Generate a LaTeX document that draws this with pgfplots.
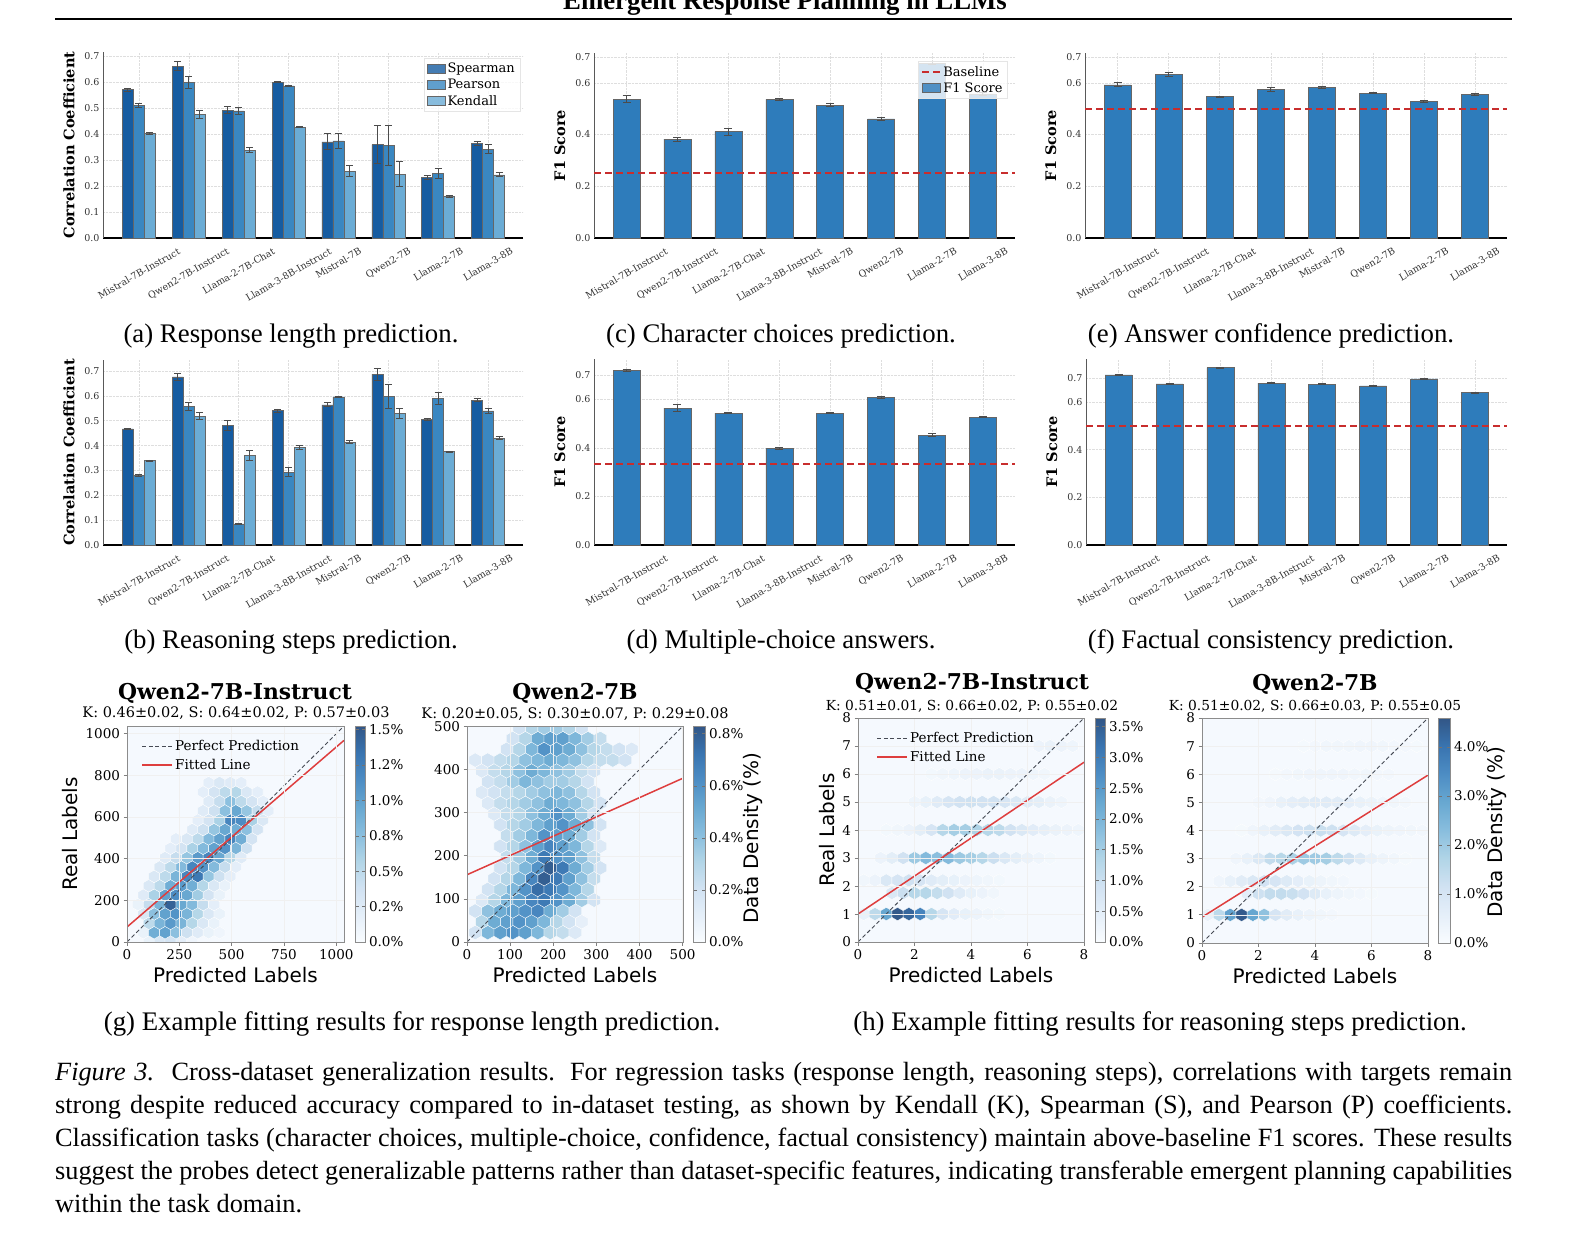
\documentclass[border=0pt]{standalone}
\usepackage{fontspec}
\usepackage{graphicx}
\usepackage{pgfplots}
\usepackage{pgfplotstable}
\pgfplotsset{compat=1.18}
\setmainfont{Liberation Serif}
\newfontfamily\dvs{DejaVu Serif}
\newfontfamily\dvsans{DejaVu Sans}
\newcommand\fs[1]{\fontsize{#1}{#1}\selectfont}
\newcommand\rl[1]{\rotatebox{30}{#1}}

\definecolor{cS}{RGB}{22,92,161}
\definecolor{cP}{RGB}{58,135,193}
\definecolor{cK}{RGB}{107,172,213}
\definecolor{cF}{RGB}{46,124,187}
\definecolor{bred}{RGB}{200,45,45}
\definecolor{fitred}{RGB}{222,62,62}
\definecolor{pgray}{RGB}{70,75,85}
\definecolor{hexbg}{RGB}{245,249,254}

% pointy-top hexagon mark for the hexbin panels
\pgfdeclareplotmark{hexa}{%
  \pgfpathmoveto{\pgfpointpolar{90}{\pgfplotmarksize}}%
  \pgfpathlineto{\pgfpointpolar{150}{\pgfplotmarksize}}%
  \pgfpathlineto{\pgfpointpolar{210}{\pgfplotmarksize}}%
  \pgfpathlineto{\pgfpointpolar{270}{\pgfplotmarksize}}%
  \pgfpathlineto{\pgfpointpolar{330}{\pgfplotmarksize}}%
  \pgfpathlineto{\pgfpointpolar{30}{\pgfplotmarksize}}%
  \pgfpathclose
  \pgfusepathqfillstroke}

\pgfplotsset{
  /pgf/number format/assume math mode=true,
  /pgf/number format/1000 sep={},
  colormap={blues}{rgb255=(249,252,255) rgb255=(229,239,249) rgb255=(209,226,242)
    rgb255=(177,213,231) rgb255=(137,190,222) rgb255=(104,168,209)
    rgb255=(77,141,196) rgb255=(57,116,176) rgb255=(50,86,134)},
  barax/.style={
    scale only axis,
    axis x line*=bottom, axis y line*=left,
    axis line style={-},
    x axis line style={black, line width=1.2pt},
    y axis line style={black!65, line width=0.8pt},
    xtick={0,...,7},
    xticklabels={\rl{Mistral-7B-Instruct},\rl{Qwen2-7B-Instruct},\rl{Llama-2-7B-Chat},
      \rl{Llama-3-8B-Instruct},\rl{Mistral-7B},\rl{Qwen2-7B},\rl{Llama-2-7B},\rl{Llama-3-8B}},
    xticklabel style={anchor=north, inner sep=0pt, yshift=-9pt, font=\dvs\fs{9.5}, text=black!80},
    yticklabel style={font=\dvs\fs{9.5}, text=black!80,
      /pgf/number format/fixed, /pgf/number format/fixed zerofill,
      /pgf/number format/precision=1},
    major tick length=0pt,
    xmajorgrids, ymajorgrids,
    grid style={densely dotted, black!13, line width=0.5pt},
    ymin=0, ybar,
    ylabel style={at={(axis description cs:-0.081,0.5)}, anchor=center,
      font=\dvs\bfseries\fs{14.5}},
    legend style={font=\dvs\fs{13}, fill=white, fill opacity=0.8, text opacity=1,
      draw=black!10, inner sep=3pt, row sep=1pt},
    legend cell align=left,
  },
  sb/.style={fill=#1, draw=black!60, line width=0.5pt,
    legend image code/.code={\draw[##1] (0pt,-4.5pt) rectangle (18pt,4.5pt);}},
  errs/.style={error bars/y dir=both, error bars/y explicit,
    error bars/error bar style={line width=0.9pt, black!70},
    error bars/error mark options={rotate=90, mark size=#1, line width=0.9pt, black!70}},
  basel/.style={color=bred, dash pattern=on 7pt off 4pt, line width=1.8pt},
  basleg/.style={basel, legend image code/.code={\draw[##1] (0pt,0pt) -- (18pt,0pt);}},
  hexax/.style={
    scale only axis, enlargelimits=false, clip marker paths=true,
    axis line style={black!45, line width=0.9pt},
    major tick length=3.5pt, tick align=outside, xtick pos=left, ytick pos=left,
    tick style={black!50, line width=0.8pt},
    tick label style={font=\dvs\fs{13.5}, text=black},
    axis background/.style={fill=hexbg},
    xmajorgrids, ymajorgrids, grid style={black!6, line width=0.5pt},
    axis on top,
    xlabel style={font=\dvsans\fs{20}, at={(axis description cs:0.5,0)}, anchor=center, yshift=-33pt},
    ylabel style={font=\dvsans\fs{20}, anchor=center},
    colormap name=blues, colorbar,
    colorbar style={at={(parent axis.north east)}, anchor=north west, scale only axis,
      axis line style={black!45, line width=0.8pt}, tick style={black!55, line width=0.7pt},
      major tick length=3.5pt, yticklabel style={font=\dvs\fs{13.5}}},
    legend style={draw=none, fill=none, font=\dvs\fs{13.5}, row sep=3pt, inner sep=1pt},
    legend cell align=left,
    legend image code/.code={\draw[##1] (0pt,0pt) -- (30pt,0pt);},
  },
  hexs/.style={scatter, only marks, mark=hexa, mark size=#1, scatter src=explicit,
    scatter/use mapped color={draw=white, fill=mapped color}, line width=0.35pt, forget plot},
  perf/.style={color=pgray, dash pattern=on 4pt off 2.5pt, line width=0.9pt},
  fitl/.style={color=fitred, line width=1.5pt},
}

\begin{document}%
% response length prediction (a)
\pgfplotstableread{
i S Se P Pe K Ke
0 0.570 0.005 0.511 0.008 0.402 0.005
1 0.661 0.017 0.597 0.024 0.476 0.016
2 0.492 0.014 0.489 0.014 0.337 0.010
3 0.599 0.002 0.585 0.002 0.426 0.002
4 0.370 0.030 0.373 0.030 0.257 0.020
5 0.359 0.072 0.357 0.077 0.246 0.049
6 0.234 0.008 0.248 0.020 0.160 0.005
7 0.365 0.008 0.342 0.018 0.243 0.008
}\tabA%
% reasoning steps prediction (b)
\pgfplotstableread{
i S Se P Pe K Ke
0 0.467 0.002 0.280 0.003 0.340 0.002
1 0.676 0.015 0.557 0.016 0.518 0.014
2 0.482 0.020 0.085 0.002 0.359 0.020
3 0.541 0.006 0.293 0.018 0.394 0.008
4 0.564 0.008 0.596 0.002 0.414 0.006
5 0.687 0.025 0.597 0.048 0.529 0.022
6 0.505 0.003 0.589 0.024 0.376 0.002
7 0.582 0.006 0.539 0.010 0.430 0.007
}\tabB%
% F1 scores: C character choices, D multiple choice, E confidence, F factual
\pgfplotstableread{
i C Ce D De E Ee F Fe
0 0.536 0.014 0.719 0.006 0.592 0.008 0.714 0.003
1 0.382 0.008 0.564 0.013 0.633 0.008 0.676 0.002
2 0.411 0.013 0.543 0.002 0.547 0.002 0.744 0.002
3 0.536 0.004 0.399 0.004 0.574 0.006 0.679 0.003
4 0.513 0.006 0.543 0.002 0.582 0.003 0.674 0.002
5 0.460 0.007 0.607 0.005 0.560 0.002 0.667 0.004
6 0.675 0.006 0.453 0.006 0.528 0.005 0.697 0.002
7 0.557 0.005 0.527 0.002 0.555 0.003 0.639 0.002
}\tabF%
% hexbin cells, density in percent
\pgfplotstableread[row sep=\\]{
x y c\\
104 0 0.15\\ 156 0 0.3\\ 208 0 0.35\\ 260 0 0.2\\ 312 0 0.1\\
78 45 0.15\\ 130 45 0.9\\ 182 45 1.0\\ 234 45 0.75\\ 286 45 0.4\\ 338 45 0.25\\ 390 45 0.15\\ 442 45 0.1\\
104 90 0.5\\ 156 90 0.85\\ 208 90 1.05\\ 260 90 0.85\\ 312 90 0.55\\ 364 90 0.3\\ 416 90 0.15\\
78 135 0.3\\ 130 135 0.75\\ 182 135 1.0\\ 234 135 1.1\\ 286 135 0.85\\ 338 135 0.55\\ 390 135 0.3\\ 442 135 0.15\\
52 180 0.15\\ 104 180 0.45\\ 156 180 0.85\\ 208 180 1.45\\ 260 180 0.95\\ 312 180 0.8\\ 364 180 0.45\\ 416 180 0.2\\
78 225 0.25\\ 130 225 0.6\\ 182 225 1.0\\ 234 225 1.15\\ 286 225 0.95\\ 338 225 0.65\\ 390 225 0.35\\ 442 225 0.15\\
104 270 0.3\\ 156 270 0.5\\ 208 270 0.9\\ 260 270 1.05\\ 312 270 0.9\\ 364 270 0.55\\ 416 270 0.3\\ 468 270 0.15\\
130 315 0.3\\ 182 315 0.5\\ 234 315 0.85\\ 286 315 1.2\\ 338 315 1.3\\ 390 315 0.7\\ 442 315 0.4\\ 494 315 0.2\\
156 360 0.3\\ 208 360 0.5\\ 260 360 0.8\\ 312 360 1.2\\ 364 360 1.1\\ 416 360 0.8\\ 468 360 0.45\\ 520 360 0.2\\
182 405 0.25\\ 234 405 0.45\\ 286 405 0.7\\ 338 405 1.05\\ 390 405 1.2\\ 442 405 0.95\\ 494 405 0.55\\ 546 405 0.25\\
208 450 0.2\\ 260 450 0.35\\ 312 450 0.6\\ 364 450 0.8\\ 416 450 1.0\\ 468 450 1.1\\ 520 450 0.85\\ 572 450 0.4\\
234 495 0.2\\ 286 495 0.3\\ 338 495 0.5\\ 390 495 0.8\\ 442 495 1.0\\ 494 495 1.2\\ 546 495 0.9\\ 598 495 0.35\\
312 540 0.25\\ 364 540 0.4\\ 416 540 0.7\\ 468 540 0.95\\ 520 540 0.9\\ 572 540 0.75\\ 624 540 0.35\\
338 585 0.2\\ 390 585 0.35\\ 442 585 0.6\\ 494 585 1.2\\ 546 585 1.15\\ 598 585 0.6\\ 650 585 0.3\\
364 630 0.25\\ 416 630 0.4\\ 468 630 0.75\\ 520 630 0.95\\ 572 630 0.7\\ 624 630 0.45\\ 676 630 0.2\\
390 675 0.25\\ 442 675 0.45\\ 494 675 0.75\\ 546 675 0.5\\ 598 675 0.35\\ 650 675 0.2\\
364 720 0.2\\ 416 720 0.35\\ 468 720 0.5\\ 520 720 0.55\\ 572 720 0.3\\ 624 720 0.2\\
390 765 0.2\\ 442 765 0.3\\ 494 765 0.25\\ 546 765 0.2\\
}\hexGa%
\pgfplotstableread[row sep=\\]{
x y c\\
19 22 0.2\\ 48 22 0.45\\ 77 22 0.55\\ 106 22 0.6\\ 135 22 0.55\\ 164 22 0.45\\ 193 22 0.3\\ 222 22 0.25\\ 251 22 0.15\\
34 47 0.3\\ 63 47 0.5\\ 92 47 0.55\\ 121 47 0.6\\ 150 47 0.55\\ 179 47 0.45\\ 208 47 0.3\\ 237 47 0.2\\ 266 47 0.1\\
19 72 0.2\\ 48 72 0.4\\ 77 72 0.5\\ 106 72 0.55\\ 135 72 0.6\\ 164 72 0.65\\ 193 72 0.5\\ 222 72 0.35\\ 251 72 0.2\\
34 97 0.15\\ 63 97 0.3\\ 92 97 0.45\\ 121 97 0.55\\ 150 97 0.65\\ 179 97 0.7\\ 208 97 0.6\\ 237 97 0.5\\ 266 97 0.35\\ 295 97 0.2\\
48 122 0.2\\ 77 122 0.3\\ 106 122 0.45\\ 135 122 0.6\\ 164 122 0.75\\ 193 122 0.7\\ 222 122 0.6\\ 251 122 0.45\\ 280 122 0.3\\
63 147 0.2\\ 92 147 0.3\\ 121 147 0.45\\ 150 147 0.65\\ 179 147 0.8\\ 208 147 0.7\\ 237 147 0.55\\ 266 147 0.4\\ 295 147 0.25\\
77 172 0.2\\ 106 172 0.3\\ 135 172 0.45\\ 164 172 0.6\\ 193 172 0.8\\ 222 172 0.7\\ 251 172 0.5\\ 280 172 0.35\\ 309 172 0.2\\
92 197 0.25\\ 121 197 0.35\\ 150 197 0.5\\ 179 197 0.7\\ 208 197 0.6\\ 237 197 0.55\\ 266 197 0.4\\ 295 197 0.25\\
77 222 0.2\\ 106 222 0.3\\ 135 222 0.4\\ 164 222 0.55\\ 193 222 0.65\\ 222 222 0.55\\ 251 222 0.45\\ 280 222 0.3\\ 309 222 0.15\\
92 247 0.25\\ 121 247 0.35\\ 150 247 0.45\\ 179 247 0.6\\ 208 247 0.55\\ 237 247 0.5\\ 266 247 0.35\\ 295 247 0.2\\
77 272 0.2\\ 106 272 0.3\\ 135 272 0.35\\ 164 272 0.45\\ 193 272 0.55\\ 222 272 0.6\\ 251 272 0.5\\ 280 272 0.4\\ 309 272 0.2\\
63 297 0.15\\ 92 297 0.25\\ 121 297 0.3\\ 150 297 0.4\\ 179 297 0.5\\ 208 297 0.6\\ 237 297 0.5\\ 266 297 0.35\\ 295 297 0.2\\
48 322 0.15\\ 77 322 0.25\\ 106 322 0.3\\ 135 322 0.35\\ 164 322 0.4\\ 193 322 0.5\\ 222 322 0.45\\ 251 322 0.4\\ 280 322 0.3\\ 309 322 0.2\\
34 347 0.15\\ 63 347 0.2\\ 92 347 0.25\\ 121 347 0.3\\ 150 347 0.35\\ 179 347 0.4\\ 208 347 0.45\\ 237 347 0.4\\ 266 347 0.3\\ 295 347 0.2\\
48 372 0.2\\ 77 372 0.25\\ 106 372 0.35\\ 135 372 0.45\\ 164 372 0.4\\ 193 372 0.35\\ 222 372 0.35\\ 251 372 0.3\\ 280 372 0.2\\
34 397 0.15\\ 63 397 0.25\\ 92 397 0.3\\ 121 397 0.4\\ 150 397 0.5\\ 179 397 0.45\\ 208 397 0.4\\ 237 397 0.35\\ 266 397 0.25\\ 295 397 0.2\\
19 422 0.15\\ 48 422 0.2\\ 77 422 0.25\\ 106 422 0.3\\ 135 422 0.4\\ 164 422 0.45\\ 193 422 0.5\\ 222 422 0.45\\ 251 422 0.4\\ 280 422 0.3\\ 309 422 0.25\\ 338 422 0.25\\ 367 422 0.2\\
92 447 0.2\\ 121 447 0.3\\ 150 447 0.45\\ 179 447 0.6\\ 208 447 0.55\\ 237 447 0.5\\ 266 447 0.4\\ 295 447 0.3\\ 324 447 0.25\\ 353 447 0.2\\ 382 447 0.15\\
106 472 0.2\\ 135 472 0.3\\ 164 472 0.5\\ 193 472 0.55\\ 222 472 0.55\\ 251 472 0.45\\ 280 472 0.35\\ 309 472 0.25\\
121 497 0.2\\ 150 497 0.3\\ 179 497 0.35\\ 208 497 0.35\\ 237 497 0.3\\ 266 497 0.2\\
}\hexGb%
\pgfplotstableread[row sep=\\]{
x y c\\
0.2 1 0.4\\ 0.6 1 1.2\\ 1.0 1 2.3\\ 1.4 1 3.6\\ 1.8 1 3.4\\ 2.2 1 2.9\\ 2.6 1 1.3\\ 3.0 1 0.8\\ 3.4 1 0.55\\ 3.8 1 0.4\\ 4.2 1 0.3\\ 4.6 1 0.2\\ 5.0 1 0.15\\
1.2 1.75 0.7\\ 1.6 1.75 1.0\\ 2.0 1.75 1.3\\ 2.4 1.75 1.3\\ 2.8 1.75 1.1\\ 3.2 1.75 0.9\\ 3.6 1.75 0.6\\ 4.0 1.75 0.4\\ 4.4 1.75 0.3\\ 4.8 1.75 0.2\\
0.2 2.2 0.2\\ 0.6 2.2 0.3\\ 1.0 2.2 0.7\\ 1.4 2.2 0.8\\ 1.8 2.2 0.9\\ 2.2 2.2 0.8\\ 2.6 2.2 0.6\\ 3.0 2.2 0.5\\ 3.4 2.2 0.4\\ 3.8 2.2 0.3\\ 4.2 2.2 0.25\\ 4.6 2.2 0.2\\ 5.0 2.2 0.15\\
0.8 3 0.3\\ 1.2 3 0.5\\ 1.6 3 0.9\\ 2.0 3 1.6\\ 2.4 3 1.9\\ 2.8 3 1.8\\ 3.2 3 1.9\\ 3.6 3 1.6\\ 4.0 3 1.5\\ 4.4 3 1.3\\ 4.8 3 1.0\\ 5.2 3 0.7\\ 5.6 3 0.5\\ 6.0 3 0.35\\ 6.4 3 0.25\\ 6.8 3 0.15\\
1.0 4 0.15\\ 1.4 4 0.2\\ 1.8 4 0.3\\ 2.2 4 0.5\\ 2.6 4 0.8\\ 3.0 4 1.3\\ 3.4 4 1.5\\ 3.8 4 1.5\\ 4.2 4 1.4\\ 4.6 4 1.3\\ 5.0 4 1.2\\ 5.4 4 0.9\\ 5.8 4 0.7\\ 6.2 4 0.55\\ 6.6 4 0.45\\ 7.0 4 0.35\\ 7.4 4 0.3\\ 7.8 4 0.25\\
2.0 5 0.25\\ 2.4 5 0.4\\ 2.8 5 0.6\\ 3.2 5 0.8\\ 3.6 5 0.9\\ 4.0 5 0.95\\ 4.4 5 0.9\\ 4.8 5 0.9\\ 5.2 5 0.8\\ 5.6 5 0.7\\ 6.0 5 0.6\\ 6.4 5 0.5\\ 6.8 5 0.35\\ 7.2 5 0.25\\
2.6 6 0.15\\ 3.0 6 0.2\\ 3.4 6 0.25\\ 3.8 6 0.3\\ 4.2 6 0.3\\ 4.6 6 0.35\\ 5.0 6 0.35\\ 5.4 6 0.3\\ 5.8 6 0.3\\ 6.2 6 0.25\\ 6.6 6 0.2\\
6.4 7 0.3\\ 6.8 7 0.35\\ 7.2 7 0.3\\ 7.6 7 0.25\\
}\hexHa%
\pgfplotstableread[row sep=\\]{
x y c\\
0.2 1 0.5\\ 0.6 1 1.5\\ 1.0 1 3.0\\ 1.4 1 4.5\\ 1.8 1 2.9\\ 2.2 1 2.2\\ 2.6 1 1.0\\ 3.0 1 0.7\\ 3.4 1 0.5\\ 3.8 1 0.35\\ 4.2 1 0.25\\ 4.6 1 0.2\\
1.6 1.75 0.6\\ 2.0 1.75 1.2\\ 2.4 1.75 1.4\\ 2.8 1.75 1.4\\ 3.2 1.75 1.3\\ 3.6 1.75 1.1\\ 4.0 1.75 0.8\\ 4.4 1.75 0.5\\ 4.8 1.75 0.35\\ 5.2 1.75 0.25\\ 5.6 1.75 0.2\\ 6.0 1.75 0.15\\
0.6 2.2 0.3\\ 1.0 2.2 0.5\\ 1.4 2.2 0.7\\ 1.8 2.2 0.9\\ 2.2 2.2 1.1\\ 2.6 2.2 1.0\\ 3.0 2.2 0.8\\ 3.4 2.2 0.6\\ 3.8 2.2 0.45\\ 4.2 2.2 0.35\\ 4.6 2.2 0.25\\ 5.0 2.2 0.2\\
1.2 3 0.3\\ 1.6 3 0.5\\ 2.0 3 0.9\\ 2.4 3 1.4\\ 2.8 3 1.6\\ 3.2 3 1.8\\ 3.6 3 2.0\\ 4.0 3 2.0\\ 4.4 3 1.9\\ 4.8 3 1.5\\ 5.2 3 1.2\\ 5.6 3 0.8\\ 6.0 3 0.5\\ 6.4 3 0.35\\ 6.8 3 0.25\\ 7.2 3 0.15\\
1.4 4 0.15\\ 1.8 4 0.3\\ 2.2 4 0.5\\ 2.6 4 0.7\\ 3.0 4 0.9\\ 3.4 4 1.1\\ 3.8 4 1.2\\ 4.2 4 1.3\\ 4.6 4 1.2\\ 5.0 4 1.0\\ 5.4 4 0.8\\ 5.8 4 0.6\\ 6.2 4 0.45\\ 6.6 4 0.35\\ 7.0 4 0.3\\ 7.4 4 0.25\\ 7.8 4 0.2\\
2.0 5 0.2\\ 2.4 5 0.3\\ 2.8 5 0.5\\ 3.2 5 0.6\\ 3.6 5 0.7\\ 4.0 5 0.75\\ 4.4 5 0.75\\ 4.8 5 0.7\\ 5.2 5 0.6\\ 5.6 5 0.5\\ 6.0 5 0.4\\ 6.4 5 0.3\\ 6.8 5 0.25\\ 7.2 5 0.2\\
2.6 6 0.15\\ 3.0 6 0.2\\ 3.4 6 0.25\\ 3.8 6 0.3\\ 4.2 6 0.3\\ 4.6 6 0.3\\ 5.0 6 0.3\\ 5.4 6 0.25\\ 5.8 6 0.25\\ 6.2 6 0.2\\ 6.6 6 0.2\\
3.6 7 0.15\\ 4.0 7 0.2\\ 4.4 7 0.25\\ 4.8 7 0.25\\ 5.2 7 0.25\\ 5.6 7 0.3\\ 6.0 7 0.3\\ 6.4 7 0.25\\ 6.8 7 0.2\\ 7.2 7 0.2\\ 7.6 7 0.15\\
}\hexHb%
\begin{tikzpicture}
\useasboundingbox (0pt,0pt) rectangle (1570pt,-1251pt);

% running head
\node[anchor=base, font=\bfseries\fs{26.8}, inner sep=0pt] at (785pt,-9pt) {Emergent Response Planning in LLMs};
\draw[line width=2.5pt] (55pt,-19pt) -- (1512pt,-19pt);

% (a) response length
\begin{axis}[barax, at={(103pt,-238pt)}, anchor=south west, width=420pt, height=186pt,
  xmin=-0.72, xmax=7.7, ymax=0.715, ytick={0,0.1,0.2,0.3,0.4,0.5,0.6,0.7},
  bar width=11pt, ylabel={Correlation Coefficient},
  legend style={at={(axis description cs:0.993,0.968)}, anchor=north east}]
\addplot[sb=cS, bar shift=-11pt, errs=3.5pt] table[x=i, y=S, y error=Se] {\tabA};
\addlegendentry{Spearman}
\addplot[sb=cP, bar shift=0pt, errs=3.5pt] table[x=i, y=P, y error=Pe] {\tabA};
\addlegendentry{Pearson}
\addplot[sb=cK, bar shift=11pt, errs=3.5pt] table[x=i, y=K, y error=Ke] {\tabA};
\addlegendentry{Kendall}
\end{axis}

% (b) reasoning steps
\begin{axis}[barax, at={(103pt,-545pt)}, anchor=south west, width=420pt, height=185pt,
  xmin=-0.72, xmax=7.7, ymax=0.744, ytick={0,0.1,0.2,0.3,0.4,0.5,0.6,0.7},
  bar width=11pt, ylabel={Correlation Coefficient}]
\addplot[sb=cS, bar shift=-11pt, errs=3.5pt] table[x=i, y=S, y error=Se] {\tabB};
\addplot[sb=cP, bar shift=0pt, errs=3.5pt] table[x=i, y=P, y error=Pe] {\tabB};
\addplot[sb=cK, bar shift=11pt, errs=3.5pt] table[x=i, y=K, y error=Ke] {\tabB};
\end{axis}

% (c) character choices
\begin{axis}[barax, at={(594pt,-238pt)}, anchor=south west, width=421pt, height=185pt,
  xmin=-0.64, xmax=7.63, ymax=0.715, ytick={0,0.2,0.4,0.6,0.7},
  bar width=27pt, ylabel={F1 Score},
  legend style={at={(axis description cs:0.983,0.957)}, anchor=north east}]
\addlegendimage{basleg}
\addlegendentry{Baseline}
\addplot[sb=cF, bar shift=0pt, errs=4pt] table[x=i, y=C, y error=Ce] {\tabF};
\addlegendentry{F1 Score}
\addplot[sharp plot, basel, forget plot] coordinates {(-0.64,0.25) (7.63,0.25)};
\end{axis}

% (d) multiple-choice answers
\begin{axis}[barax, at={(594pt,-545pt)}, anchor=south west, width=421pt, height=186pt,
  xmin=-0.64, xmax=7.63, ymax=0.766, ytick={0,0.2,0.4,0.6,0.7},
  bar width=27pt, ylabel={F1 Score}]
\addplot[sb=cF, bar shift=0pt, errs=4pt] table[x=i, y=D, y error=De] {\tabF};
\addplot[sharp plot, basel, forget plot] coordinates {(-0.64,0.333) (7.63,0.333)};
\end{axis}

% (e) answer confidence
\begin{axis}[barax, at={(1085pt,-238pt)}, anchor=south west, width=422pt, height=185pt,
  xmin=-0.64, xmax=7.63, ymax=0.715, ytick={0,0.2,0.4,0.6,0.7},
  bar width=27pt, ylabel={F1 Score}]
\addplot[sb=cF, bar shift=0pt, errs=4pt] table[x=i, y=E, y error=Ee] {\tabF};
\addplot[sharp plot, basel, forget plot] coordinates {(-0.64,0.5) (7.63,0.5)};
\end{axis}

% (f) factual consistency
\begin{axis}[barax, at={(1086pt,-545pt)}, anchor=south west, width=421pt, height=186pt,
  xmin=-0.64, xmax=7.63, ymax=0.78, ytick={0,0.2,0.4,0.6,0.7},
  bar width=27pt, ylabel={F1 Score}]
\addplot[sb=cF, bar shift=0pt, errs=4pt] table[x=i, y=F, y error=Fe] {\tabF};
\addplot[sharp plot, basel, forget plot] coordinates {(-0.64,0.5) (7.63,0.5)};
\end{axis}

% (g) response length hexbins
\begin{axis}[hexax, at={(127pt,-942pt)}, anchor=south west, width=217pt, height=216pt,
  xmin=0, xmax=1037, ymin=0, ymax=1037,
  xtick={0,250,500,750,1000}, ytick={0,200,400,600,800,1000},
  xlabel={Predicted Labels}, ylabel={Real Labels},
  ylabel style={at={(axis description cs:-0.263,0.5)}},
  point meta min=0, point meta max=1.526,
  colorbar style={xshift=3pt, width=10pt, height=216pt,
    ytick={0,0.25,0.5,0.75,1,1.25,1.5},
    yticklabels={0.0\%,0.2\%,0.5\%,0.8\%,1.0\%,1.2\%,1.5\%}},
  legend style={at={(axis description cs:0.062,0.948)}, anchor=north west}]
\addplot[hexs=6.3pt] table[x=x, y=y, meta=c] {\hexGa};
\addplot[perf] coordinates {(0,0) (1037,1037)};
\addlegendentry{Perfect Prediction}
\addplot[fitl] coordinates {(0,72) (1037,968)};
\addlegendentry{Fitted Line}
\end{axis}

\begin{axis}[hexax, at={(467pt,-942pt)}, anchor=south west, width=216pt, height=216pt,
  xmin=0, xmax=501, ymin=0, ymax=501,
  xtick={0,100,200,300,400,500}, ytick={0,100,200,300,400,500},
  xlabel={Predicted Labels},
  point meta min=0, point meta max=0.83,
  colorbar style={xshift=2pt, width=12pt, height=216pt,
    ytick={0,0.2,0.4,0.6,0.8},
    yticklabels={0.0\%,0.2\%,0.4\%,0.6\%,0.8\%}}]
\addplot[hexs=7.25pt] table[x=x, y=y, meta=c] {\hexGb};
\addplot[perf] coordinates {(0,0) (501,501)};
\addplot[fitl] coordinates {(0,156) (501,380)};
\end{axis}

% (h) reasoning steps hexbins
\begin{axis}[hexax, at={(858pt,-942pt)}, anchor=south west, width=226pt, height=224pt,
  xmin=0, xmax=8, ymin=0, ymax=8,
  xtick={0,2,4,6,8}, ytick={0,1,2,3,4,5,6,7,8},
  xlabel={Predicted Labels}, ylabel={Real Labels},
  ylabel style={at={(axis description cs:-0.137,0.5)}},
  point meta min=0, point meta max=3.64,
  colorbar style={xshift=3pt, width=10pt, height=224pt,
    ytick={0,0.5,1,1.5,2,2.5,3,3.5},
    yticklabels={0.0\%,0.5\%,1.0\%,1.5\%,2.0\%,2.5\%,3.0\%,3.5\%}},
  legend style={at={(axis description cs:0.077,0.95)}, anchor=north west}]
\addplot[hexs=6.6pt] table[x=x, y=y, meta=c] {\hexHa};
\addplot[perf] coordinates {(0,0) (8,8)};
\addlegendentry{Perfect Prediction}
\addplot[fitl] coordinates {(0,1.0) (8,6.42)};
\addlegendentry{Fitted Line}
\end{axis}

\begin{axis}[hexax, at={(1202pt,-943pt)}, anchor=south west, width=226pt, height=225pt,
  xmin=0, xmax=8, ymin=0, ymax=8,
  xtick={0,2,4,6,8}, ytick={0,1,2,3,4,5,6,7,8},
  xlabel={Predicted Labels},
  point meta min=0, point meta max=4.59,
  colorbar style={xshift=2pt, width=12pt, height=225pt,
    ytick={0,1,2,3,4},
    yticklabels={0.0\%,1.0\%,2.0\%,3.0\%,4.0\%}}]
\addplot[hexs=6.6pt] table[x=x, y=y, meta=c] {\hexHb};
\addplot[perf] coordinates {(0,0) (8,8)};
\addplot[fitl] coordinates {(0,0.92) (8,5.97)};
\end{axis}

% hexbin titles
\node[font=\dvs\bfseries\fs{21.8}, inner sep=0pt] at (235pt,-693pt) {Qwen2-7B-Instruct};
\node[font=\dvs\fs{14.5}, inner sep=0pt] at (236pt,-713pt) {K: 0.46±0.02, S: 0.64±0.02, P: 0.57±0.03};
\node[font=\dvs\bfseries\fs{21.8}, inner sep=0pt] at (575pt,-693pt) {Qwen2-7B};
\node[font=\dvs\fs{14.5}, inner sep=0pt] at (575pt,-714pt) {K: 0.20±0.05, S: 0.30±0.07, P: 0.29±0.08};
\node[font=\dvs\bfseries\fs{21.8}, inner sep=0pt] at (972pt,-683pt) {Qwen2-7B-Instruct};
\node[font=\dvs\fs{13.8}, inner sep=0pt] at (972pt,-706pt) {K: 0.51±0.01, S: 0.66±0.02, P: 0.55±0.02};
\node[font=\dvs\bfseries\fs{21.8}, inner sep=0pt] at (1315pt,-684pt) {Qwen2-7B};
\node[font=\dvs\fs{13.8}, inner sep=0pt] at (1315pt,-706pt) {K: 0.51±0.02, S: 0.66±0.03, P: 0.55±0.05};
\node[font=\dvsans\fs{20}, inner sep=0pt, rotate=90] at (753pt,-838pt) {Data Density (\%)};
\node[font=\dvsans\fs{20}, inner sep=0pt, rotate=90] at (1497pt,-832pt) {Data Density (\%)};

% sub-captions
\begin{scope}[every node/.style={anchor=base, inner sep=0pt, font=\fs{26.8}}]
\node at (291pt,-342pt) {(a) Response length prediction.};
\node at (781pt,-342pt) {(c) Character choices prediction.};
\node at (1271pt,-342pt) {(e) Answer confidence prediction.};
\node at (291pt,-648pt) {(b) Reasoning steps prediction.};
\node at (781pt,-648pt) {(d) Multiple-choice answers.};
\node at (1271pt,-648pt) {(f) Factual consistency prediction.};
\node at (412pt,-1030pt) {(g) Example fitting results for response length prediction.};
\node at (1160pt,-1030pt) {(h) Example fitting results for reasoning steps prediction.};
\end{scope}

% figure caption
\node[anchor=north west, inner sep=0pt, text width=1457pt, align=justify,
  font={\fontsize{26.3}{33}\selectfont}] at (55pt,-1062pt)
 {\hyphenpenalty=10000\tolerance=9999\emergencystretch=20pt
 \textit{Figure 3.}\ \ Cross-dataset generalization results. For regression tasks (response length, reasoning steps), correlations with targets remain\linebreak
 strong despite reduced accuracy compared to in-dataset testing, as shown by Kendall (K), Spearman (S), and Pearson (P) coefficients.\linebreak
 Classification tasks (character choices, multiple-choice, confidence, factual consistency) maintain above-baseline F1 scores. These results\linebreak
 suggest the probes detect generalizable patterns rather than dataset-specific features, indicating transferable emergent planning capabilities\linebreak
 within the task domain.};
\end{tikzpicture}%
\end{document}
